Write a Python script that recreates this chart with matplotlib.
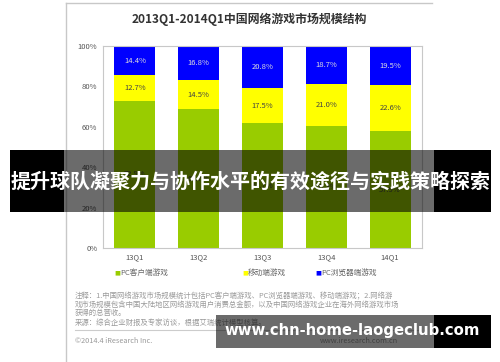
import matplotlib
matplotlib.use('Agg')
import matplotlib.pyplot as plt
from matplotlib.patches import Rectangle
import numpy as np

plt.rcParams['font.family'] = ['Noto Sans CJK SC', 'DejaVu Sans']

categories = ['13Q1', '13Q2', '13Q3', '13Q4', '14Q1']
pc_client = [72.9, 68.7, 61.7, 60.3, 57.9]
mobile = [12.7, 14.5, 17.5, 21.0, 22.6]
pc_browser = [14.4, 16.8, 20.8, 18.7, 19.5]
series_names = ['PC客户端游戏', '移动端游戏', 'PC浏览器端游戏']
series_colors = ['#99cc00', '#ffff00', '#0000ff']
yticks = [0, 20, 40, 60, 80, 100]
ytick_labels = ['0%', '20%', '40%', '60%', '80%', '100%']
title = '2013Q1-2014Q1中国网络游戏市场规模结构'
notes = [
    '注释：1.中国网络游戏市场规模统计包括PC客户端游戏、PC浏览器端游戏、移动端游戏；2.网络游',
    '戏市场规模包含中国大陆地区网络游戏用户消费总金额，以及中国网络游戏企业在海外网络游戏市场',
    '获得的总营收。',
    '来源：综合企业财报及专家访谈，根据艾瑞统计模型核算。',
]
copyright_text = '©2014.4 iResearch Inc.'
site_text = 'www.iresearch.com.cn'
banner = '提升球队凝聚力与协作水平的有效途径与实践策略探索'
watermark = 'www.chn-home-laogeclub.com'

W, H = 500, 362
fig = plt.figure(figsize=(5, 3.62), dpi=100)
fig.patch.set_facecolor('white')

# background layer (card frame, title, legend, notes)
bg = fig.add_axes([0, 0, 1, 1], zorder=0)
bg.set_xlim(0, W)
bg.set_ylim(H, 0)
bg.axis('off')
bg.plot([66, 432], [3, 3], color='#c8c8c8', lw=1)
bg.plot([66, 66], [3, 362], color='#c8c8c8', lw=1)
bg.text(249, 19, title, ha='center', va='center', fontsize=8.6,
        fontweight='bold', color='#333333')

# legend (manual)
leg_x = [117, 245, 318]
for lx, name, col in zip(leg_x, series_names, series_colors):
    bg.text(lx, 273, '■', ha='center', va='center', fontsize=4.5, color=col,
            family=['DejaVu Sans'])
    bg.text(lx + 3, 273, name, ha='left', va='center', fontsize=5.5, color='#666666')

# notes
note_y = [296, 305, 313, 323]
for ny, line in zip(note_y, notes):
    bg.text(75, ny, line, ha='left', va='center', fontsize=5.3, color='#9a9a9a')
bg.plot([75, 420], [330, 330], color='#cccccc', lw=0.8)
bg.text(75, 341, copyright_text, ha='left', va='center', fontsize=5.3, color='#9a9a9a')
bg.text(398, 341, site_text, ha='right', va='center', fontsize=5.3, color='#9a9a9a')

# main chart
ax = fig.add_axes([103 / W, 1 - 248 / H, (422 - 103) / W, (248 - 46) / H], zorder=1)
x = np.arange(len(categories))
w = 0.64
b1 = ax.bar(x, pc_client, w, color=series_colors[0])
b2 = ax.bar(x, mobile, w, bottom=pc_client, color=series_colors[1])
bottom3 = np.array(pc_client) + np.array(mobile)
b3 = ax.bar(x, pc_browser, w, bottom=bottom3, color=series_colors[2])
for bars, vals, tc in [(b1, pc_client, '#444444'), (b2, mobile, '#444444'),
                       (b3, pc_browser, '#dddddd')]:
    ax.bar_label(bars, labels=[f'{v:.1f}%' for v in vals], label_type='center',
                 fontsize=5.5, color=tc)
ax.set_xlim(-0.5, len(categories) - 0.5)
ax.set_ylim(0, 100)
ax.set_yticks(yticks, ytick_labels)
ax.set_xticks(x, categories)
ax.tick_params(length=0, labelsize=5.5, colors='#555555')
ax.tick_params(axis='y', pad=4)
ax.tick_params(axis='x', pad=4)
for s in ax.spines.values():
    s.set_color('#c8c8c8')
    s.set_linewidth(0.8)

# overlay layer
ov = fig.add_axes([0, 0, 1, 1], zorder=3)
ov.set_xlim(0, W)
ov.set_ylim(H, 0)
ov.axis('off')
ov.add_patch(Rectangle((10, 150), 54, 62, facecolor='black', edgecolor='none'))
ov.add_patch(Rectangle((434, 150), 57, 62, facecolor='black', edgecolor='none'))
ov.add_patch(Rectangle((64, 150), 370, 62, facecolor='black', alpha=0.58, edgecolor='none'))
ov.text(250.5, 181, banner, ha='center', va='center', fontsize=14.4,
        fontweight='bold', color='white')

ov.add_patch(Rectangle((216, 315), 218, 33, facecolor='black', alpha=0.58, edgecolor='none'))
ov.add_patch(Rectangle((434, 315), 57, 33, facecolor='black', edgecolor='none'))
ov.text(352, 331, watermark, ha='center', va='center', fontsize=10.7,
        fontweight='bold', color='white', family=['DejaVu Sans'])

fig.savefig('out.png', dpi=100, facecolor='white')
